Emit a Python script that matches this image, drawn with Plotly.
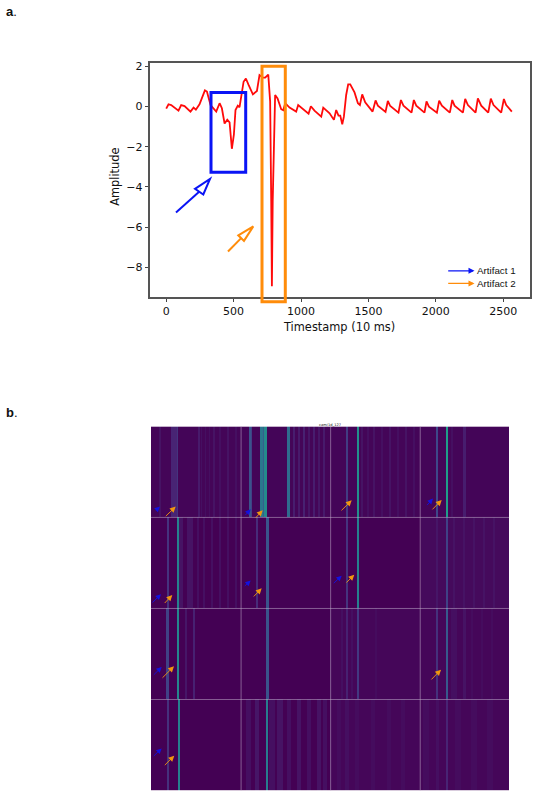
import plotly.graph_objects as go

W, H = 533, 795

timestamps = [0, 17, 37, 91, 111, 136, 180, 203, 220, 247, 287, 302, 329, 371, 396, 413, 433, 453, 470, 487, 502,
              514, 531, 544, 574, 591, 611, 643, 673, 692, 717, 734, 757, 771, 779, 784, 790, 799, 808, 826, 853, 868,
              883, 915, 964, 979, 1001, 1056, 1073, 1100, 1150, 1165, 1212, 1244, 1261, 1278, 1291, 1306, 1318, 1335,
              1350, 1365, 1397, 1422, 1437, 1454, 1476, 1531, 1553, 1570, 1627, 1644, 1662, 1723, 1741, 1760,
              1820, 1837, 1855, 1916, 1931, 1949, 2008, 2025, 2045, 2104, 2122, 2139, 2201, 2218, 2238, 2295,
              2312, 2337, 2389, 2408, 2428, 2485, 2505, 2522, 2564]
amplitude = [-0.1, 0.12, 0.08, -0.2, 0.08, 0.03, -0.25, -0.05, -0.15, 0.12, 0.81, 0.75, 0.08, -0.25, 0.17, -0.08,
             -0.84, -0.65, -0.78, -2.1, -1.4, -0.17, 0.05, -0.03, 1.24, 1.4, 1.08, 0.61, 0.78, 1.57, 1.44, 1.44, 1.6,
             0.25, -4.7, -8.95, -4.7, -2.2, 0.58, 0.41, -0.13, -0.18, 0.17, -0.05, -0.25, 0.08, -0.05, -0.35, 0.02,
             -0.2, -0.5, -0.05, -0.33, -0.66, -0.17, -0.45, -0.45, -0.88, -0.5, 0.58, 1.11, 1.11, 0.71, 0.17, 0.08,
             0.61, 0.22, -0.25, 0.31, 0.05, -0.26, 0.28, 0.03, -0.3, 0.33, 0.05, -0.3, 0.33, 0.05, -0.3, 0.26, 0.0,
             -0.3, 0.3, 0.05, -0.3, 0.33, 0.05, -0.3, 0.38, 0.08, -0.3, 0.41, 0.05, -0.3, 0.4, 0.08, -0.3, 0.38, 0.08,
             -0.25]
x_ticks = [0, 500, 1000, 1500, 2000, 2500]
y_ticks = [2, 0, -2, -4, -6, -8]
x_title = "Timestamp (10 ms)"
y_title = "Amplitude"
legend_labels = ["Artifact 1", "Artifact 2"]
heat_title = "cam/1d_127"

# heatmap bands: (first column, last column, value); one list per row of panels
n_columns = 358
row1_bands = [(0, 358, .012), (8, 10, .05), (20, 26, .1), (26, 27, .15), (47, 49, .07), (50, 51, .04), (54, 55, .04),
              (58, 59, .04), (62, 64, .05), (68, 70, .04), (76, 78, .05), (84, 86, .04), (98, 100, .26),
              (100, 101, .2), (109, 112, .4), (112, 113, .3), (113, 116, .48), (136, 139, .35), (142, 144, .08),
              (147, 149, .07), (152, 154, .09), (157, 159, .06), (162, 164, .08), (167, 169, .06), (172, 174, .07),
              (195, 197, .18), (206, 208, .5), (210, 212, .05), (216, 218, .04), (222, 224, .05), (230, 232, .04),
              (238, 240, .05), (246, 248, .04), (254, 256, .05), (262, 264, .04), (285, 287, .22), (295, 297, .55),
              (300, 302, .04), (312, 315, .08)]
row2_bands = [(16, 18, .15), (26, 28, .44), (28, 32, .05), (36, 42, .05), (46, 48, .04), (52, 54, .04), (60, 62, .04),
              (68, 70, .04), (76, 78, .04), (84, 86, .04), (105, 107, .12), (115, 118, .26), (195, 197, .15),
              (206, 208, .44), (270, 358, .025), (285, 287, .06), (295, 297, .2), (302, 304, .05), (312, 314, .05),
              (322, 324, .05), (332, 334, .05), (342, 344, .05)]
row3_bands = [(179, 358, .015), (15, 18, .2), (26, 28, .46), (34, 36, .06), (42, 44, .09), (115, 118, .26),
              (195, 197, .09), (206, 208, .17), (190, 192, .04), (200, 202, .04), (224, 226, .03), (285, 287, .14),
              (295, 297, .28), (300, 306, .04), (312, 315, .05), (320, 322, .03), (330, 332, .03), (340, 342, .03)]
row4_bands = [(179, 358, .015), (16, 18, .14), (27, 29, .44), (115, 117, .42), (95, 100, .04), (104, 108, .06),
              (118, 124, .04), (126, 132, .05), (136, 140, .04), (146, 150, .05), (156, 160, .04), (166, 170, .05),
              (172, 176, .04), (186, 190, .03), (194, 198, .04), (204, 208, .03), (220, 224, .03), (236, 240, .03),
              (250, 254, .03), (272, 278, .03), (285, 288, .04), (295, 297, .1), (304, 310, .03), (320, 326, .03),
              (336, 342, .03)]
panel_edges_x = [89.5, 179, 268.5]
panel_edges_y = [0.5, 1.5, 2.5]

# small arrows in the heatmap, page pixels: x0, y0, x1, y1
blue_arrows = [(154.3, 509.3, 160, 504), (244, 514, 250.7, 506.7), (425.7, 504, 433, 496), (151, 601.7, 161, 592),
               (243.3, 585, 250.7, 578.3), (332.3, 582.3, 341.7, 573.3), (152.3, 674.3, 161.7, 665),
               (152.3, 755.7, 161.7, 746.7)]
orange_arrows = [(164.3, 515, 175.7, 504), (254.3, 516.7, 262.7, 507.7), (340, 509.3, 351.7, 497.7),
                 (431, 508.3, 441.7, 497.3), (163.3, 602.3, 172.3, 592.7), (252.3, 595.7, 261.7, 586),
                 (345, 581.7, 354.3, 572.3), (161, 677.3, 174, 664.3), (430, 679, 441, 667.7),
                 (163.3, 765, 174.3, 754)]

BLUE, ORANGE = "#0a14f5", "#ff8c0a"
TICK_FONT = dict(family="DejaVu Sans", size=11, color="#111111")


def row_values(bands):
    vals = [0.0] * n_columns
    for a, b, v in bands:
        for i in range(a, b):
            vals[i] = max(vals[i], v)
    return vals


z = [row_values(r) for r in (row1_bands, row2_bands, row3_bands, row4_bands)]


def dom_x(a, b):
    return [a / W, b / W]


def dom_y(top, bottom):
    return [1 - bottom / H, 1 - top / H]


fig = go.Figure()
fig.add_trace(go.Scatter(x=timestamps, y=amplitude, mode="lines", line=dict(color="#ff0a0a", width=1.8),
                         xaxis="x", yaxis="y", hoverinfo="skip", showlegend=False))
fig.add_trace(go.Heatmap(z=z, x=list(range(n_columns)), y=[0, 1, 2, 3], colorscale="Viridis", zmin=0, zmax=1,
                         showscale=False, xaxis="x2", yaxis="y2", hoverinfo="skip"))
# page-pixel helper axes used only to place the overlays
fig.add_trace(go.Scatter(x=[0, W], y=[0, H], mode="none", xaxis="x3", yaxis="y3", hoverinfo="skip", showlegend=False))

axis_line = dict(showline=True, mirror=True, linecolor="#555555", linewidth=1.5, showgrid=False, zeroline=False,
                 ticks="outside", ticklen=3, tickwidth=1, tickcolor="#444444", tickfont=TICK_FONT)
fig.update_layout(
    width=W, height=H, margin=dict(l=0, r=0, t=0, b=0), paper_bgcolor="white", plot_bgcolor="rgba(0,0,0,0)",
    showlegend=False,
    xaxis=dict(domain=dom_x(149.5, 529.5), range=[-124, 2695], tickvals=x_ticks, anchor="y", **axis_line),
    yaxis=dict(domain=dom_y(60.5, 295.2), range=[-9.49, 2.16], tickvals=y_ticks, anchor="x",
               tickformat="d", **axis_line),
    xaxis2=dict(domain=dom_x(151, 509.3), range=[-0.5, n_columns - 0.5], visible=False, anchor="y2"),
    yaxis2=dict(domain=dom_y(425, 790.5), range=[3.5, -0.5], visible=False, anchor="x2"),
    xaxis3=dict(domain=[0, 1], range=[0, W], visible=False, anchor="y3"),
    yaxis3=dict(domain=[0, 1], range=[H - 1.5, -1.5], visible=False, anchor="x3"),
)


def page_text(x, y, text, size, family="DejaVu Sans", anchor="center", angle=0, color="#111111"):
    fig.add_annotation(x=x, y=y, xref="x3", yref="y3", text=text, showarrow=False, xanchor=anchor, yanchor="middle",
                       textangle=angle, font=dict(family=family, size=size, color=color))


def arrow(a, color, width=1.0, size=1.0, head=2):
    fig.add_annotation(x=a[2], y=a[3], ax=a[0], ay=a[1], xref="x3", yref="y3", axref="x3", ayref="y3", text="",
                       showarrow=True, arrowhead=head, arrowsize=size, arrowwidth=width, arrowcolor=color,
                       standoff=0, startstandoff=0)


def rect(x0, y0, x1, y1, color):
    fig.add_shape(type="rect", x0=x0, y0=y0, x1=x1, y1=y1, xref="x3", yref="y3", line=dict(color=color, width=3))


def open_arrow(tail, tip, c1, c2, color, width):
    fig.add_shape(type="line", x0=tail[0], y0=tail[1], x1=(c1[0] + c2[0]) / 2, y1=(c1[1] + c2[1]) / 2,
                  xref="x3", yref="y3", line=dict(color=color, width=width))
    fig.add_shape(type="path", xref="x3", yref="y3", fillcolor="white", line=dict(color=color, width=width),
                  path=f"M{c1[0]},{c1[1]} L{tip[0]},{tip[1]} L{c2[0]},{c2[1]} Z")


rect(211, 88.3, 245.7, 168.3, BLUE)
rect(262, 62, 285.3, 298.3, ORANGE)
open_arrow((176, 208.7), (210, 175), (195, 185), (203.3, 190.7), BLUE, 2)
open_arrow((228, 248), (253.3, 222.7), (238.3, 231.7), (244, 237.3), ORANGE, 2)

# legend of panel a
arrow((446.7, 267.3, 474.5, 267.3), BLUE, 1.2, 1.0)
arrow((446.7, 280, 474.5, 280), ORANGE, 1.2, 1.0)
page_text(475, 267.5, legend_labels[0], 9.8, "Liberation Sans", "left")
page_text(475, 280, legend_labels[1], 9.8, "Liberation Sans", "left")

page_text(339, 323.5, x_title, 11.4)
page_text(115, 173, y_title, 11.4, angle=-90)
page_text(4, 7.5, "<b>a</b>.", 13, "Liberation Sans", "left")
page_text(4, 410, "<b>b</b>.", 13, "Liberation Sans", "left")
page_text(330, 422.5, heat_title, 3.6)

# panel separators of the heatmap
for e in panel_edges_x:
    fig.add_shape(type="line", x0=e, x1=e, y0=-0.5, y1=3.5, xref="x2", yref="y2",
                  line=dict(color="rgba(190,170,200,0.55)", width=1))
for e in panel_edges_y:
    fig.add_shape(type="line", x0=-0.5, x1=n_columns - 0.5, y0=e, y1=e, xref="x2", yref="y2",
                  line=dict(color="rgba(190,170,200,0.55)", width=1))
for a in blue_arrows:
    arrow(a, "#1212e0", 0.9, 1.2)
for a in orange_arrows:
    arrow(a, "#f0960f", 0.9, 1.3)

fig.write_html("out.html", config=dict(displayModeBar=False),
               post_script="document.body.style.margin='0';document.body.style.overflow='hidden';")
